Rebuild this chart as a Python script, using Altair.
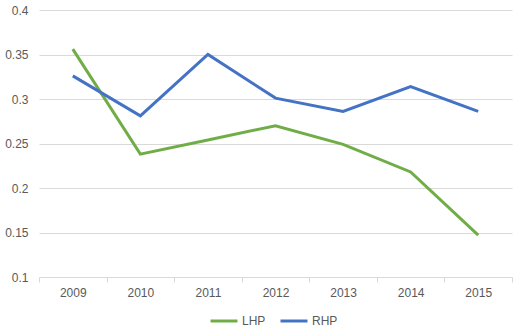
import altair as alt
import pandas as pd

years = ["2009", "2010", "2011", "2012", "2013", "2014", "2015"]
lhp = [0.356, 0.238, 0.254, 0.270, 0.249, 0.218, 0.147]
rhp = [0.326, 0.281, 0.350, 0.301, 0.286, 0.314, 0.286]
series = ["LHP", "RHP"]
colors = ["#70AD47", "#4472C4"]

rows = []
for y, a, b in zip(years, lhp, rhp):
    rows.append({"year": y, "series": "LHP", "value": a})
    rows.append({"year": y, "series": "RHP", "value": b})
df = pd.DataFrame(rows)

font = "Liberation Sans"

chart = alt.Chart(df).mark_line(strokeWidth=3).encode(
    x=alt.X("year:N", sort=years, title=None,
            scale=alt.Scale(paddingInner=0, paddingOuter=0),
            axis=alt.Axis(labelAngle=0, tickBand="extent", grid=False,
                          domainColor="#D9D9D9", tickColor="#D9D9D9",
                          tickSize=5, labelPadding=5, labelColor="#595959",
                          labelFontSize=12, labelFont=font)),
    y=alt.Y("value:Q", title=None,
            scale=alt.Scale(domain=[0.1, 0.4], nice=False, zero=False),
            axis=alt.Axis(values=[0.1, 0.15, 0.2, 0.25, 0.3, 0.35, 0.4],
                          format=".2~f",
                          domain=False, ticks=False, gridColor="#D9D9D9",
                          labelPadding=11, labelColor="#595959",
                          labelFontSize=12, labelFont=font)),
    color=alt.Color("series:N", scale=alt.Scale(domain=series, range=colors),
                    legend=alt.Legend(title=None, orient="none", legendX=170, legendY=296,
                                      direction="horizontal", symbolType="stroke",
                                      symbolSize=729, symbolStrokeWidth=3,
                                      labelFontSize=12, labelFont=font,
                                      labelColor="#595959", labelOffset=3,
                                      columnPadding=8, padding=0)),
).properties(
    width=473, height=267,
    autosize=alt.AutoSizeParams(type="none"),
    padding={"left": 39, "top": 10, "right": 9, "bottom": 51},
).configure_view(stroke=None)

chart.save("out.html", embed_options={"renderer": "svg", "actions": False})
